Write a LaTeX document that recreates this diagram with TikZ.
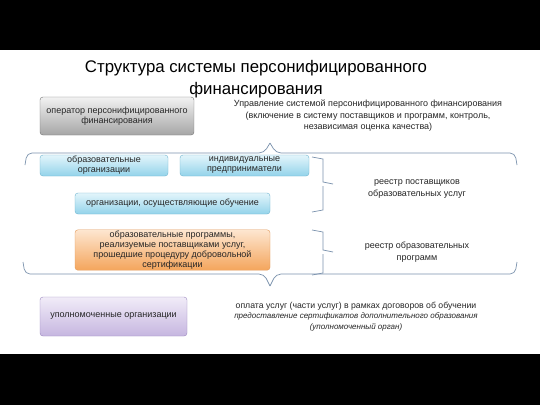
\documentclass[tikz,border=0pt]{standalone}
\usepackage{fontspec}
\setmainfont{Liberation Sans}
\usetikzlibrary{positioning}
\definecolor{bracecol}{HTML}{7C93AE}
\definecolor{txtcol}{HTML}{262626}
\definecolor{bluetop}{HTML}{E3F5FB}
\definecolor{bluebot}{HTML}{93D3EA}
\definecolor{blueline}{HTML}{6FB5CF}
\definecolor{orangetop}{HTML}{FDE6D0}
\definecolor{orangebot}{HTML}{F4A55C}
\definecolor{orangeline}{HTML}{E39A5A}
\definecolor{purpletop}{HTML}{F1ECF8}
\definecolor{purplebot}{HTML}{C6B6E0}
\definecolor{purpleline}{HTML}{9C88C0}
\definecolor{graytop}{HTML}{F2F2F2}
\definecolor{graybot}{HTML}{A6A6A6}
\tikzset{
  box/.style={draw, rounded corners=3pt, align=center, inner sep=1pt,
    text=txtcol, font=\fontsize{9}{10}\selectfont},
  graybox/.style={box, draw=gray!90!black, top color=graytop, bottom color=graybot},
  bluebox/.style={box, draw=blueline, top color=bluetop, bottom color=bluebot},
  orangebox/.style={box, draw=orangeline, top color=orangetop, bottom color=orangebot},
  purplebox/.style={box, draw=purpleline, top color=purpletop, bottom color=purplebot},
  note/.style={align=center, text=txtcol, font=\fontsize{9}{11.5}\selectfont},
  bracket/.style={draw=bracecol, line width=0.7pt, rounded corners=5pt}
}
\begin{document}
\begin{tikzpicture}[x=1pt,y=-1pt]
\useasboundingbox (0,0) rectangle (540,405);
\fill[white] (0,0) rectangle (540,405);
\fill[black] (0,0) rectangle (540,50);
\fill[black] (0,354) rectangle (540,405);

% title
\node[align=center, font=\fontsize{16.8}{22}\selectfont] (title) at (256,79)
  {Структура системы персонифицированного\\финансирования};

% boxes
\node[graybox, minimum width=154pt, minimum height=38pt] (oper) at (117,116)
  {оператор персонифицированного\\финансирования};
\node[bluebox, minimum width=128pt, minimum height=21pt] (edorg) at (104,165.5)
  {образовательные\\организации};
\node[bluebox, minimum width=129pt, minimum height=21pt] (ip) at (244.5,165.5)
  {индивидуальные\\предприниматели};
\node[bluebox, minimum width=195pt, minimum height=21pt] (train) at (172.5,203.5)
  {организации, осуществляющие обучение};
\node[orangebox, minimum width=195pt, minimum height=40pt] (progs) at (172.5,250)
  {образовательные программы,\\реализуемые поставщиками услуг,\\прошедшие процедуру добровольной\\сертификации};
\node[purplebox, minimum width=147pt, minimum height=39pt] (auth) at (113.5,316.5)
  {уполномоченные организации};

% texts
\node[note] (manage) at (368,116)
  {Управление системой персонифицированного финансирования\\(включение в систему поставщиков и программ, контроль,\\независимая оценка качества)};
\node[note] (reg1) at (417,189) {реестр поставщиков\\образовательных услуг};
\node[note] (reg2) at (417,252) {реестр образовательных\\программ};
\node[note, font=\fontsize{8.7}{10.5}\selectfont] (pay) at (356,316.5)
  {оплата услуг (части услуг) в рамках договоров об обучении\\
   {\itshape\fontsize{8}{10.5}\selectfont предоставление сертификатов дополнительного образования}\\
   {\itshape\fontsize{8}{10.5}\selectfont (уполномоченный орган)}};

% braces
\draw[bracket] (25,165) -- (27,153) -- (264,153) -- (270,143);
\draw[bracket] (270,143) -- (276,153) -- (515,153) -- (517,165);
\draw[bracket] (23,262) -- (25,274) -- (264,274) -- (270,286);
\draw[bracket] (270,286) -- (276,274) -- (515,274) -- (517,262);
\draw[bracecol, line width=0.7pt] (312,157) -- (323,159) -- (323,182) -- (333,184)
  (323,186) -- (323,210) -- (312,212);
\draw[bracecol, line width=0.7pt] (312,230) -- (323,232) -- (323,250) -- (333,252)
  (323,254) -- (323,273) -- (312,275);
\end{tikzpicture}
\end{document}
